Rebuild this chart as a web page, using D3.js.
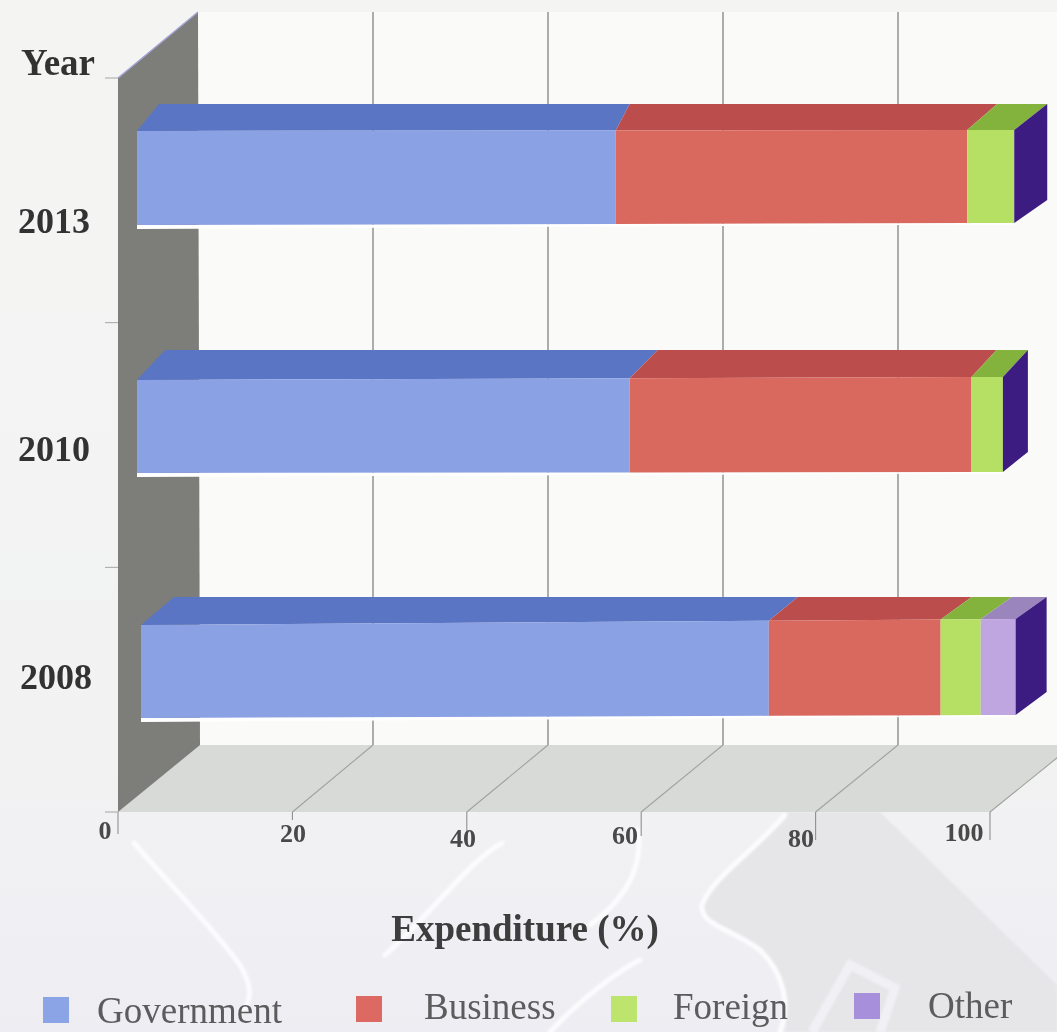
<!DOCTYPE html>
<html><head><meta charset="utf-8">
<script src="https://cdn.jsdelivr.net/npm/d3@7"></script>
<style>html,body{margin:0;padding:0;background:#f3f3f3}svg{display:block}text{font-family:"Liberation Serif",serif}</style>
</head><body><svg id="c" width="1057" height="1032"></svg>
<script>
const years = ["2008", "2010", "2013"];
const seriesNames = ["Government", "Business", "Foreign", "Other"];
const government = [72.0, 56.5, 54.9];
const business = [19.7, 39.2, 40.3];
const foreign = [4.6, 3.6, 5.4];
const other = [4.0, 0, 0];
const xTicks = [0, 20, 40, 60, 80, 100];
const seriesValues = [government, business, foreign, other];

const W = 1057, H = 1032;
const frontColors = ["#8aa1e3", "#d9685e", "#b6e063", "#bfa6e0"];
const topColors = ["#5a75c3", "#bb4d4d", "#84b33c", "#9a86bd"];
const sideColor = "#3d1a82";
const legendColors = ["#8aa4e6", "#dc6a62", "#bde56e", "#a88fdc"];

const svg = d3.select("#c");
const defs = svg.append("defs");
const bg = defs.append("linearGradient").attr("id", "bg").attr("x1", 0).attr("y1", 0).attr("x2", 0).attr("y2", 1);
bg.append("stop").attr("offset", 0).attr("stop-color", "#f4f5f3");
bg.append("stop").attr("offset", .75).attr("stop-color", "#f2f2f3");
bg.append("stop").attr("offset", 1).attr("stop-color", "#eeedf3");
defs.append("filter").attr("id", "soft").attr("x", 0).attr("y", 0).attr("width", 1).attr("height", 1)
  .append("feGaussianBlur").attr("stdDeviation", .6);
defs.append("filter").attr("id", "softer").append("feGaussianBlur").attr("stdDeviation", 1.2);

const root = svg.append("g").attr("filter", "url(#soft)");
root.append("rect").attr("width", W).attr("height", H).attr("fill", "url(#bg)");

// scales
const x = d3.scaleLinear().domain([0, 100]).range([118, 990]);
const xBack = d3.scaleLinear().domain([0, 100]).range([198, 1073]);
const floorY = 812, floorBackY = 745, wallTopFront = 78, wallTopBack = 12;
const yAxis = d3.scaleLinear().domain([0, 3]).range([floorY, wallTopFront]);
const barX = d3.scaleLinear().domain([0, 100]).range([0, 872]);
const ord = r => d3.scaleOrdinal().domain(years).range(r);
const barOrigin = ord([141, 137, 137]);
const topLeft = ord([625, 380, 131]), topRight = ord([619, 377, 130]);
const botLeft = ord([718, 473, 225]), botRight = ord([715, 472, 223]);
const backTop = ord([597, 350, 104]), sideH = ord([95, 102, 96]);
// horizontal shear of the top face at each stack boundary, as photographed
const shear = ord([[33, 29, 31, 31, 31], [28, 28, 25, 25], [22, 14, 30, 33]]);

// backdrop watermark
const wm = root.append("g").attr("filter", "url(#softer)");
wm.append("path").attr("d", "M785 812L880 812 1057 985 1057 1032 785 1032C790 1005 785 975 760 950C730 928 700 925 702 905C710 880 755 850 785 812Z").attr("fill", "#e6e6e8");
wm.append("g").attr("fill", "none").attr("stroke", "#fcfcfe").attr("stroke-width", 5).attr("stroke-linecap", "round")
  .selectAll("path").data([
    "M134 843C170 885 215 930 240 965C255 990 250 1005 240 1012",
    "M502 843C470 860 430 915 385 955",
    "M638 830C645 880 610 910 590 925",
    "M785 815C755 850 710 880 702 905C700 925 730 928 760 950C785 975 790 1005 780 1032",
    "M640 960C610 975 570 1010 550 1032"
  ]).join("path").attr("d", d => d);
wm.append("path").attr("d", "M812 1032L850 965 895 988 880 1032").attr("fill", "none").attr("stroke", "#f1f1f5").attr("stroke-width", 9);

// back wall
root.append("polygon").attr("fill", "#fafbf8")
  .attr("points", [[xBack(0), wallTopBack], [W, wallTopBack], [W, floorBackY], [xBack(0), floorBackY]].join(" "));
// floor
root.append("polygon").attr("fill", "#d7dad6")
  .attr("points", [[x(0), floorY], [xBack(0), floorBackY], [xBack(100), floorBackY], [x(100), floorY]].join(" "));
// left wall
root.append("polygon").attr("fill", "#7d7d79")
  .attr("points", [[x(0), floorY], [xBack(0) + 2, floorBackY], [xBack(0), wallTopBack], [x(0), wallTopFront]].join(" "));
root.append("line").attr("x1", x(0)).attr("y1", wallTopFront).attr("x2", xBack(0)).attr("y2", wallTopBack)
  .attr("stroke", "#a3a3d8").attr("stroke-width", 1.5);

// gridlines, floor lines, ticks
root.append("g").selectAll("line").data(xTicks.slice(1, 5)).join("line")
  .attr("x1", d => xBack(d)).attr("x2", d => xBack(d))
  .attr("y1", wallTopBack).attr("y2", floorBackY).attr("stroke", "#8b8c89").attr("stroke-width", 1.4);
root.append("g").selectAll("line").data(xTicks.slice(1)).join("line")
  .attr("x1", d => x(d)).attr("y1", floorY)
  .attr("x2", d => xBack(d)).attr("y2", floorBackY)
  .attr("stroke", "#a0a29f").attr("stroke-width", 1.1);
const tickLen = {0: 22, 20: 8, 40: 28, 60: 24, 80: 28, 100: 28};
root.append("g").selectAll("line").data(xTicks).join("line")
  .attr("x1", d => x(d)).attr("x2", d => x(d)).attr("y1", floorY).attr("y2", d => floorY + tickLen[d])
  .attr("stroke", "#8f8f8f").attr("stroke-width", 1.1);
root.append("g").selectAll("line").data(d3.range(4)).join("line")
  .attr("x1", x(0) - 13).attr("x2", x(0)).attr("y1", d => yAxis(d)).attr("y2", d => yAxis(d))
  .attr("stroke", "#a5a5a5").attr("stroke-width", 1);

// bars
years.forEach((yr, i) => {
  const x0 = barOrigin(yr), backY = backTop(yr), sh = shear(yr);
  const stack = d3.stack().keys(d3.range(4)).value((row, k) => row[k])([seriesValues.map(s => s[i])]);
  const segs = stack.map(s => ({k: +s.key, a: s[0][0], b: s[0][1]})).filter(s => s.b > s.a);
  const endX = x0 + barX(segs[segs.length - 1].b);
  const lerp = (l, r) => px => l + (r - l) * (px - x0) / (endX - x0);
  const top = lerp(topLeft(yr), topRight(yr)), bot = lerp(botLeft(yr), botRight(yr));
  const g = root.append("g").attr("class", "bar");
  const xa = d => x0 + barX(d.a), xb = d => x0 + barX(d.b);
  g.append("polygon").attr("fill", "#ffffff")
    .attr("points", [[x0, bot(x0)], [endX, bot(endX)], [endX, bot(endX) + 1.5], [x0, bot(x0) + 4]].join(" "));
  g.selectAll(".t").data(segs).join("polygon").attr("class", "t")
    .attr("fill", d => topColors[d.k])
    .attr("points", (d, j) => [[xa(d), top(xa(d))], [xa(d) + sh[j], backY], [xb(d) + sh[j + 1], backY], [xb(d), top(xb(d))]].join(" "));
  g.selectAll(".f").data(segs).join("polygon").attr("class", "f")
    .attr("fill", d => frontColors[d.k])
    .attr("points", d => [[xa(d), top(xa(d))], [xb(d), top(xb(d))], [xb(d), bot(xb(d))], [xa(d), bot(xa(d))]].join(" "));
  const edx = sh[segs.length];
  g.append("polygon").attr("fill", sideColor)
    .attr("points", [[endX, top(endX)], [endX + edx, backY], [endX + edx, backY + sideH(yr)], [endX, bot(endX)]].join(" "));
});

// axis labels
const labelPos = {0: [105, 839], 20: [293, 842], 40: [463, 847], 60: [625, 844], 80: [801, 847], 100: [964, 841]};
root.append("g").selectAll("text").data(xTicks).join("text")
  .attr("x", d => labelPos[d][0]).attr("y", d => labelPos[d][1])
  .attr("text-anchor", "middle").attr("font-size", 26).attr("font-weight", 700).attr("fill", "#484848").text(d => d);
const yearPos = {"2008": [56, 689], "2010": [54, 461], "2013": [54, 233]};
root.append("g").selectAll("text").data(years).join("text")
  .attr("x", d => yearPos[d][0]).attr("y", d => yearPos[d][1])
  .attr("text-anchor", "middle").attr("font-size", 36).attr("font-weight", 700).attr("fill", "#333").text(d => d);
root.append("text").attr("x", 58).attr("y", 75).attr("text-anchor", "middle").attr("font-size", 37).attr("font-weight", 700).attr("fill", "#333").text("Year");
root.append("text").attr("x", 525).attr("y", 941).attr("text-anchor", "middle").attr("font-size", 37).attr("font-weight", 700).attr("fill", "#3d3d3d").text("Expenditure (%)");

// legend
const legSw = [[43, 997], [356, 996], [611, 996], [854, 993]];
const legTx = [[97, 1023], [424, 1019], [673, 1019], [928, 1018]];
root.append("g").selectAll("rect").data(seriesNames).join("rect")
  .attr("x", (d, i) => legSw[i][0]).attr("y", (d, i) => legSw[i][1]).attr("width", 26).attr("height", 26)
  .attr("fill", (d, i) => legendColors[i]);
root.append("g").selectAll("text").data(seriesNames).join("text")
  .attr("x", (d, i) => legTx[i][0]).attr("y", (d, i) => legTx[i][1])
  .attr("font-size", 37).attr("fill", "#5c5c5e").text(d => d);
</script></body></html>
